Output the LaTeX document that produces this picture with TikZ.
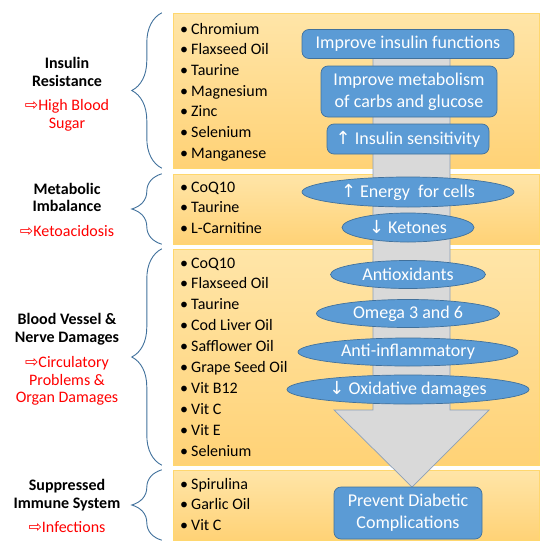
\documentclass[tikz,border=0pt]{standalone}
\usepackage{fontspec}
\setmainfont{Carlito}
\newfontfamily\symfont{DejaVu Sans}
\definecolor{panelTop}{RGB}{255,229,168}
\definecolor{panelBottom}{RGB}{255,210,118}
\definecolor{panelLine}{RGB}{255,215,110}
\definecolor{stepblue}{RGB}{91,155,213}
\definecolor{stepline}{RGB}{65,113,156}
\definecolor{shaftgrey}{RGB}{217,217,217}
\definecolor{shaftline}{RGB}{140,160,185}
\newcommand{\uparr}{{\symfont\char"2191}}
\newcommand{\downarr}{{\symfont\char"2193}}
\newcommand{\redarr}{{\symfont\char"21E8}}
\usetikzlibrary{shapes.geometric,decorations.pathreplacing}

\tikzset{
  panel/.style={draw=panelLine, top color=panelTop, bottom color=panelBottom, minimum width=366pt, inner sep=0pt},
  brace/.style={draw=stepline, line width=0.9pt, decorate, decoration={brace, amplitude=30pt}},
  supp/.style={anchor=base west, inner sep=0pt, font=\fontsize{16}{19}\selectfont},
  cause/.style={align=center, inner sep=0pt, font=\bfseries\fontsize{16}{17.5}\selectfont},
  effect/.style={align=center, inner sep=0pt, text=red, font=\fontsize{16}{17.5}\selectfont},
  stepbox/.style={draw=stepline, fill=stepblue, text=white, rounded corners=7pt, align=center, inner sep=0pt, line width=0.7pt, font=\fontsize{18}{22}\selectfont},
  stepoval/.style={ellipse, draw=stepline, fill=stepblue, text=white, inner sep=0pt, line width=0.7pt, font=\fontsize{18}{22}\selectfont}
}

\begin{document}
\begin{tikzpicture}[x=1pt, y=-1pt]
  \useasboundingbox (0,0) rectangle (540,554);

  % panels
  \node[panel, minimum height=155pt] (box1) at (356,90.5) {};
  \node[panel, minimum height=70pt] (box2) at (356,209) {};
  \node[panel, minimum height=216pt] (box3) at (356,357) {};
  \node[panel, minimum height=70pt] (box4) at (356,505) {};

  % braces
  \foreach \b in {box1,box2,box3,box4}
    \draw[brace] ([xshift=-11pt]\b.south west) -- ([xshift=-11pt]\b.north west);

  % problems
  \node[cause] (insulin) at (67,72) {Insulin\\Resistance};
  \node[effect] (sugar) at (67,115.5) {\redarr High Blood\\Sugar};
  \node[cause] (metabolic) at (67,197.5) {Metabolic\\Imbalance};
  \node[effect] (keto) at (67,231) {\redarr Ketoacidosis};
  \node[cause] (vessel) at (67,329) {Blood Vessel \&\\Nerve Damages};
  \node[effect] (organ) at (67,381) {\redarr Circulatory\\Problems \&\\Organ Damages};
  \node[cause] (immune) at (67,495) {Suppressed\\Immune System};
  \node[effect] (infect) at (67,527) {\redarr Infections};

  % supplements
  \foreach \s [count=\k] in {Chromium, Flaxseed Oil, Taurine, Magnesium, Zinc, Selenium, Manganese}
    \node[supp] (ins\k) at (180,{34+20.7*(\k-1)}) {\makebox[11pt][l]{\textbullet}\s};
  \foreach \s [count=\k] in {CoQ10, Taurine, L-Carnitine}
    \node[supp] (met\k) at (180,{192+20.8*(\k-1)}) {\makebox[11pt][l]{\textbullet}\s};
  \foreach \s [count=\k] in {CoQ10, Flaxseed Oil, Taurine, Cod Liver Oil, Safflower Oil, Grape Seed Oil, Vit B12, Vit C, Vit E, Selenium}
    \node[supp] (ves\k) at (180,{268+20.9*(\k-1)}) {\makebox[11pt][l]{\textbullet}\s};
  \foreach \s [count=\k] in {Spirulina, Garlic Oil, Vit C}
    \node[supp] (imm\k) at (180,{489+20.9*(\k-1)}) {\makebox[11pt][l]{\textbullet}\s};

  % big grey arrow
  \draw[fill=shaftgrey, draw=shaftline, line width=0.7pt]
    (373,40) -- (450,40) -- (450,410) -- (489,410) -- (412,487) -- (334,410) -- (373,410) -- cycle;

  % effects
  \node[stepbox, minimum width=212pt, minimum height=29pt] (func) at (408,44) {Improve insulin functions};
  \node[stepbox, minimum width=176pt, minimum height=51pt] (carbs) at (409,91.5) {Improve metabolism\\of carbs and glucose};
  \node[stepbox, minimum width=162pt, minimum height=30pt] (sens) at (408,139) {\uparr\ Insulin sensitivity};
  \node[stepoval, minimum width=212pt, minimum height=30pt] (energy) at (408,192) {\uparr\ Energy\ \ for cells};
  \node[stepoval, minimum width=132pt, minimum height=29pt] (ketones) at (408,227.5) {\downarr\ Ketones};
  \node[stepoval, minimum width=155pt, minimum height=28pt] (antiox) at (408,274.5) {Antioxidants};
  \node[stepoval, minimum width=183pt, minimum height=28pt] (omega) at (408,313.5) {Omega 3 and 6};
  \node[stepoval, minimum width=220pt, minimum height=28pt] (inflam) at (408,352) {Anti-inflammatory};
  \node[stepoval, minimum width=242pt, minimum height=29pt] (oxid) at (408,389.5) {\downarr\ Oxidative damages};
  \node[stepbox, minimum width=148pt, minimum height=52pt] (prevent) at (408,513) {Prevent Diabetic\\Complications};
\end{tikzpicture}
\end{document}
